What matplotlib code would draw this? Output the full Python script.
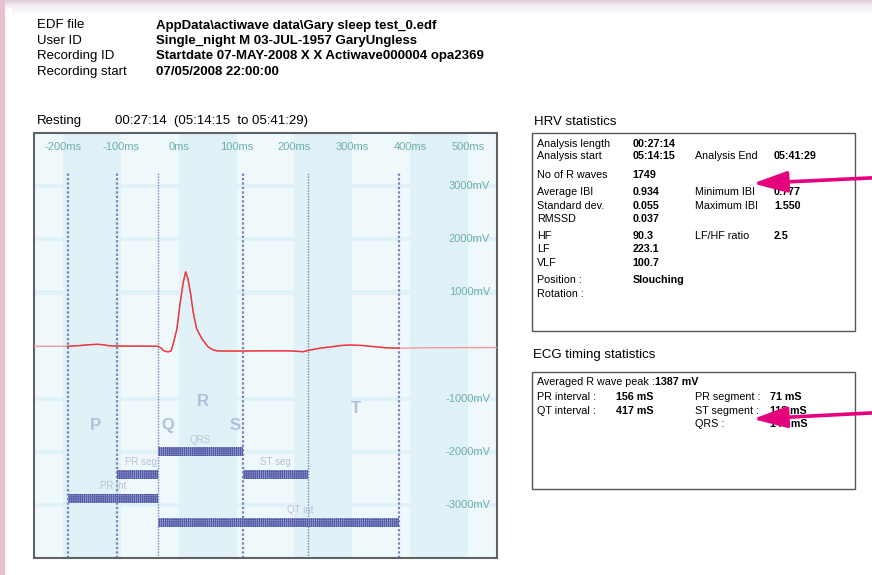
import numpy as np
import matplotlib
matplotlib.use("Agg")
import matplotlib.pyplot as plt
from matplotlib.patches import Rectangle, FancyBboxPatch, FancyArrowPatch
from matplotlib.colors import LinearSegmentedColormap

plt.rcParams['font.family'] = ['Liberation Sans', 'DejaVu Sans']
plt.rcParams['hatch.linewidth'] = 0.6

# ---------------- data ----------------
header_labels = ["EDF file", "User ID", "Recording ID", "Recording start"]
header_values = ["AppData\\actiwave data\\Gary sleep test_0.edf",
                 "Single_night M 03-JUL-1957 GaryUngless",
                 "Startdate 07-MAY-2008 X X Actiwave000004 opa2369",
                 "07/05/2008 22:00:00"]

x_ticks_ms = [-200, -100, 0, 100, 200, 300, 400, 500]
x_tick_labels = ["-200ms", "-100ms", "0ms", "100ms", "200ms", "300ms", "400ms", "500ms"]
y_ticks_mv = [3000, 2000, 1000, -1000, -2000, -3000]
y_tick_labels = ["3000mV", "2000mV", "1000mV", "-1000mV", "-2000mV", "-3000mV"]

ecg_t = [-250, -200, -192, -170, -155, -140, -128, -120, -107, -60, -36, -30, -27,
         -22, -18, -13, -9, -6, -3, 2, 8, 12, 16, 21, 25, 31, 40, 51, 60, 66, 80,
         110, 150, 190, 205, 215, 227, 245, 261, 280, 296, 318, 331, 355, 381, 400,
         434, 480, 550]
ecg_mv = [-15, -15, -15, 0, 15, 23, 10, -5, -10, -12, -15, -50, -90,
          -112, -120, -100, 50, 180, 316, 762, 1195, 1387, 1257, 945, 630, 316, 128, -28, -85, -100, -104,
          -104, -100, -100, -110, -117, -85, -50, -28, 0, 9, 0, -15, -40, -53, -48,
          -41, -40, -38]

marker_ms = [-192, -107, -36, 111, 224, 381]
marker_thin = [False, False, True, False, True, False]

bar_names = ["QRS", "PR seg", "ST seg", "PR int", "QT int"]
bar_start = [-36, -107, 111, -192, -36]
bar_end = [111, -36, 224, -36, 381]
bar_level = [-2000, -2430, -2430, -2880, -3330]

wave_letters = ["P", "Q", "R", "S", "T"]

hrv_rows = [
    ("Analysis length", "00:27:14", "", ""),
    ("Analysis start", "05:14:15", "Analysis End", "05:41:29"),
    ("No of R waves", "1749", "", ""),
    ("Average IBI", "0.934", "Minimum IBI", "0.777"),
    ("Standard dev.", "0.055", "Maximum IBI", "1.550"),
    ("RMSSD", "0.037", "", ""),
    ("HF", "90.3", "LF/HF ratio", "2.5"),
    ("LF", "223.1", "", ""),
    ("VLF", "100.7", "", ""),
    ("Position :", "Slouching", "", ""),
    ("Rotation :", "", "", ""),
]
ecg_rows = [
    ("PR interval :", "156 mS", "PR segment :", "71 mS"),
    ("QT interval :", "417 mS", "ST segment :", "113 mS"),
    ("", "", "QRS :", "147 mS"),
]

# ---------------- figure ----------------
W, H = 872, 575
fig = plt.figure(figsize=(W / 100, H / 100), dpi=100)
fig.patch.set_facecolor('#ead3e1')

def fx(px):
    return px / W

def fy(py):
    return 1 - py / H

# top band gradient
grad = np.linspace(0, 1, 30).reshape(-1, 1)
bg_ax = fig.add_axes([0, fy(20), 1, 20 / H])
bg_ax.set_axis_off()
cmap = LinearSegmentedColormap.from_list('g', ['#ffffff', '#f4eef2', '#dccdd8'])
bg_ax.imshow(grad[::-1] ** 2, aspect='auto', cmap=cmap, extent=[0, 1, 0, 1])

card = FancyBboxPatch((fx(5), -0.1), 1.2, fy(7) + 0.1, transform=fig.transFigure,
                      boxstyle="round,pad=0,rounding_size=0.012", facecolor='white',
                      edgecolor='none', zorder=1)
fig.patches.append(card)
for i in range(8):
    fig.patches.append(Rectangle((fx(12), fy(7 + i + 1)), 1, 1 / H, transform=fig.transFigure,
                                 facecolor='#e8e0e6', alpha=0.5 * (1 - i / 8), edgecolor='none', zorder=1.5))

# header text
for i, (lab, val) in enumerate(zip(header_labels, header_values)):
    yy = 25.5 + i * 15.5
    fig.text(fx(37), fy(yy), lab, fontsize=9.5, va='center', ha='left', zorder=3)
    fig.text(fx(156), fy(yy), val, fontsize=9.5, va='center', ha='left', fontweight='bold', zorder=3)

fig.text(fx(37), fy(121), "Resting", fontsize=9.5, va='center', zorder=3)
fig.text(fx(115), fy(121), "00:27:14  (05:14:15  to 05:41:29)", fontsize=9.5, va='center', zorder=3)

# ---------------- chart ----------------
ax = fig.add_axes([fx(34), fy(558), 463 / W, 425 / H])
ax.set_zorder(2)
ax.set_xlim(-250, 550)
ax.set_ylim(-4000, 4000)
ax.set_xticks([])
ax.set_yticks([])
ax.set_facecolor('#eff8fb')
for s in ax.spines.values():
    s.set_color('#5f6366')
    s.set_linewidth(1.5)

dark = '#e0f1f7'
for x0 in x_ticks_ms[::2]:
    ax.axvspan(x0, x0 + 100, color=dark, lw=0, zorder=0)
for yv in y_ticks_mv:
    ax.axhspan(yv - 40, yv + 40, color=dark, lw=0, zorder=0.1)

tick_col = '#6eafab'
for xv, lab in zip(x_ticks_ms, x_tick_labels):
    ax.text(xv, 3740, lab, ha='center', va='center', fontsize=8, color=tick_col, zorder=3)
for yv, lab in zip(y_ticks_mv, y_tick_labels):
    ax.text(538, yv, lab, ha='right', va='center', fontsize=8, color=tick_col, zorder=3)

# vertical markers
for xm, thin in zip(marker_ms, marker_thin):
    ax.plot([xm, xm], [-4000, 3270], color='#7a80bf', lw=1.0 if thin else 1.6,
            linestyle=(0, (1, 1)), zorder=2)

# hatched interval bars
for name, a, b, lvl in zip(bar_names, bar_start, bar_end, bar_level):
    ax.add_patch(Rectangle((a, lvl - 85), b - a, 170, facecolor='#b4b9de', edgecolor='#5259a6',
                           hatch='++++++++', lw=0, zorder=2.5))

label_x = [(a + b) / 2 for a, b in zip(bar_start, bar_end)]
label_x[1] = -65
label_x[4] = 210
for name, lx, lvl in zip(bar_names, label_x, bar_level):
    ax.text(lx, lvl + 230, name, ha='center', va='center', fontsize=7, color='#b9c1d8', zorder=3)

letter_x = [-143, -18, 42, 98, 306]
letter_y = [-1510, -1510, -1060, -1510, -1195]
for L, lx, ly in zip(wave_letters, letter_x, letter_y):
    ax.text(lx, ly, L, ha='center', va='center', fontsize=12, fontweight='bold', color='#b3bedc', zorder=3)

# ECG trace
t = np.array(ecg_t, dtype=float)
v = np.array(ecg_mv, dtype=float)
ax.plot(t, v, color='#f09a9e', lw=1.0, zorder=4)
m = (t >= marker_ms[0]) & (t <= marker_ms[-1])
ax.plot(t[m], v[m], color='#e8363c', lw=1.0, zorder=4.5)

# ---------------- HRV panel ----------------
fig.text(fx(534), fy(122), "HRV statistics", fontsize=9.5, va='center', zorder=3)
fig.patches.append(Rectangle((fx(531.5), fy(330.5)), (855 - 531.5) / W, (330.5 - 133.3) / H,
                             transform=fig.transFigure, fill=False, edgecolor='#555555', lw=1, zorder=3))
hrv_y = [144, 156, 175.3, 192.3, 205.7, 219, 235.7, 249, 262.7, 280.3, 294.3]
cols = [537.3, 632.3, 695, 774]
fs = 7.75
for (a, b, c, d), yy in zip(hrv_rows, hrv_y):
    fig.text(fx(cols[0]), fy(yy), a, fontsize=fs, va='center', zorder=3)
    fig.text(fx(cols[1]), fy(yy), b, fontsize=fs, va='center', fontweight='bold', zorder=3)
    fig.text(fx(cols[2]), fy(yy), c, fontsize=fs, va='center', zorder=3)
    fig.text(fx(cols[3]), fy(yy), d, fontsize=fs, va='center', fontweight='bold', zorder=3)

# ---------------- ECG timing panel ----------------
fig.text(fx(533), fy(355), "ECG timing statistics", fontsize=9.5, va='center', zorder=3)
fig.patches.append(Rectangle((fx(531.5), fy(489.3)), (855 - 531.5) / W, (489.3 - 372) / H,
                             transform=fig.transFigure, fill=False, edgecolor='#555555', lw=1, zorder=3))
fig.text(fx(537.3), fy(381.7), "Averaged R wave peak :", fontsize=fs, va='center', zorder=3)
fig.text(fx(655), fy(381.7), "1387 mV", fontsize=fs, va='center', fontweight='bold', zorder=3)
ecg_y = [397.3, 410.7, 424.3]
cols2 = [537.3, 615.7, 695, 770]
for (a, b, c, d), yy in zip(ecg_rows, ecg_y):
    fig.text(fx(cols2[0]), fy(yy), a, fontsize=fs, va='center', zorder=3)
    fig.text(fx(cols2[1]), fy(yy), b, fontsize=fs, va='center', fontweight='bold', zorder=3)
    fig.text(fx(cols2[2]), fy(yy), c, fontsize=fs, va='center', zorder=3)
    fig.text(fx(cols2[3]), fy(yy), d, fontsize=fs, va='center', fontweight='bold', zorder=3)

# ---------------- magenta arrows ----------------
for (x1, y1), (x2, y2) in [((880, 177.5), (753, 183.5)), ((880, 412.5), (753, 419))]:
    arr = FancyArrowPatch((fx(x1), fy(y1)), (fx(x2), fy(y2)), transform=fig.transFigure,
                          arrowstyle='-|>,head_length=8,head_width=2.5', mutation_scale=2.6,
                          color='#e5007d', lw=2.6, zorder=6, shrinkA=0, shrinkB=0)
    fig.patches.append(arr)

# left pink strip
fig.patches.append(Rectangle((0, 0), fx(4.5), 1, transform=fig.transFigure,
                             facecolor='#e6bfd3', edgecolor='none', zorder=2))

fig.savefig("out.png", dpi=100)
